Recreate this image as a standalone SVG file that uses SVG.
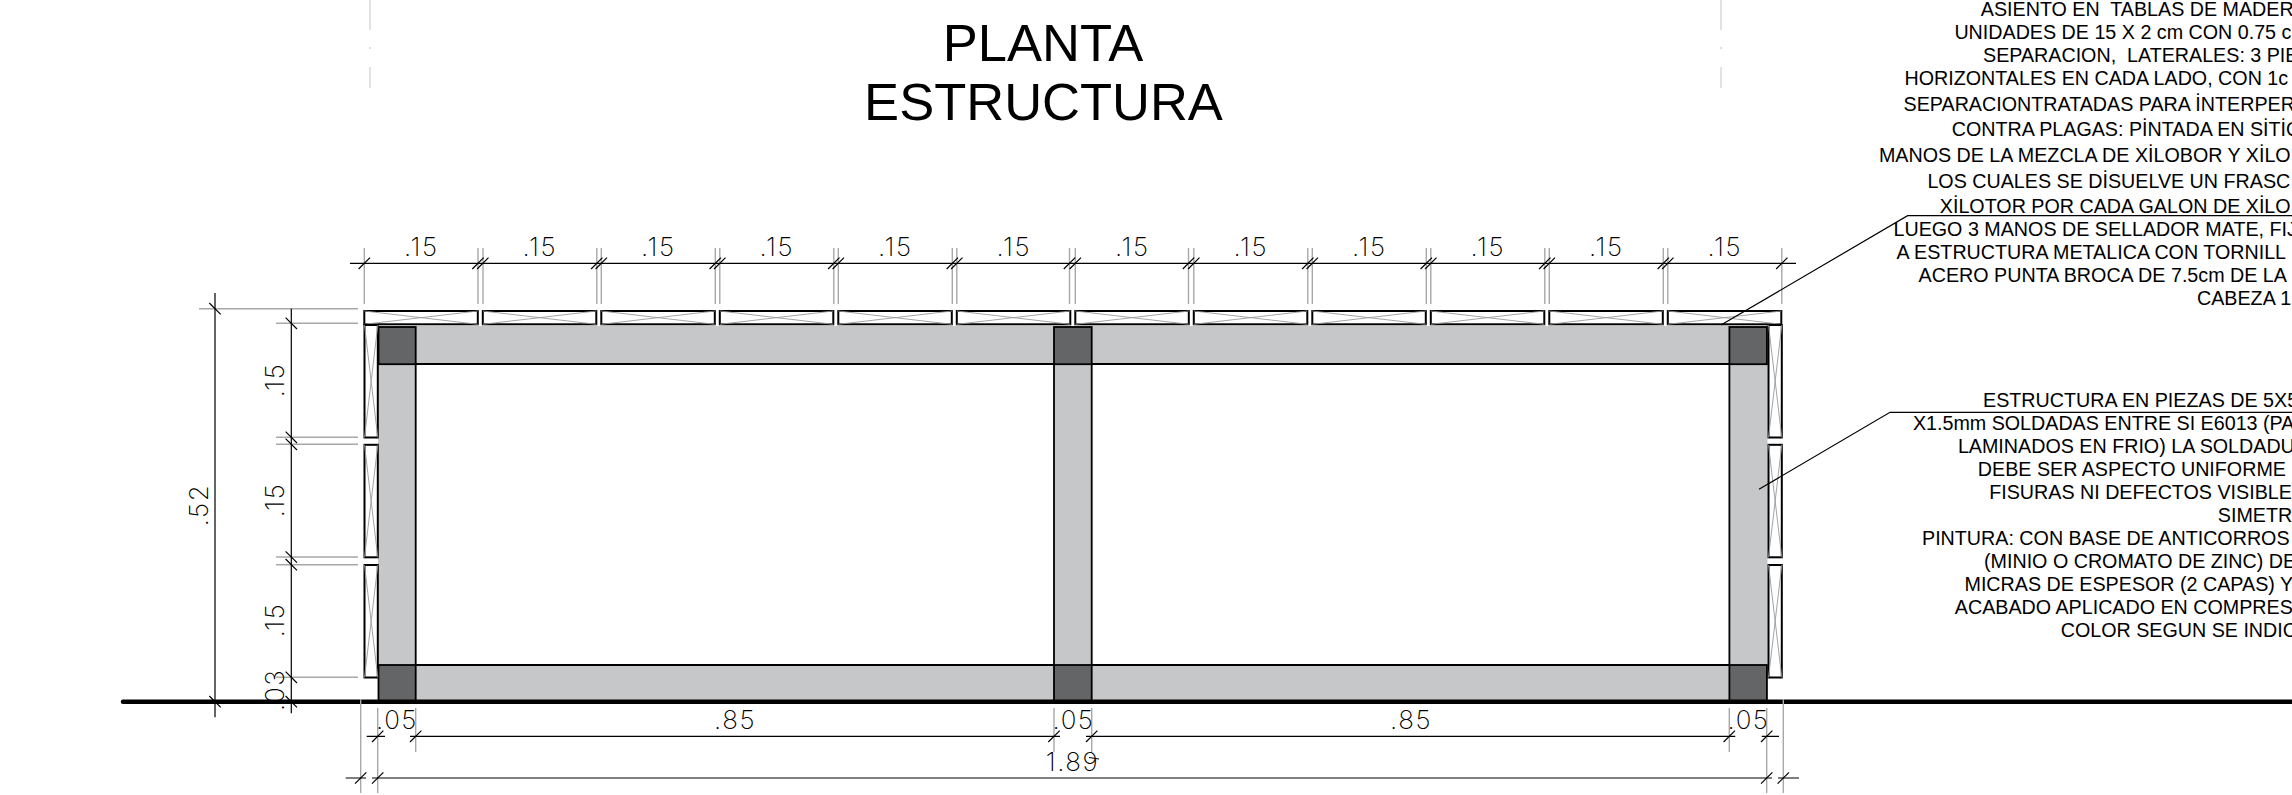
<svg xmlns="http://www.w3.org/2000/svg" xmlns:xlink="http://www.w3.org/1999/xlink" width="2292" height="795" viewBox="0 0 2292 795">
<style>
.t{font-family:"Liberation Sans",Arial,sans-serif;fill:#000;white-space:pre}
.title{font-size:52.5px;text-anchor:middle}
.note{font-size:19.7px}
.dim{font-family:Inter,"Liberation Sans",sans-serif;font-weight:200;font-size:26px;letter-spacing:1.5px;fill:#000;text-anchor:middle}
.ext{stroke:#a8a8a8;stroke-width:1.4;fill:none}
.dl{stroke:#000;stroke-width:1.2;fill:none}
.lead{stroke:#000;stroke-width:1.2;fill:none}
.light{fill:#c6c7c9}
.dark{fill:#646567;stroke:#000;stroke-width:1.8}
.edge{stroke:#000;stroke-width:1.8;fill:none}
.pl{fill:#fff;stroke:#000;stroke-width:2}
.x{stroke:#9a9a9a;stroke-width:.9;fill:none}
.faint{stroke:#d0d0d0;stroke-width:1.2;fill:none}
</style>
<defs>
<g id="ph"><rect class="pl" x="0" y="0" width="113.5" height="13.3"/><path class="x" d="M0 0L113.5 13.3M0 13.3L113.5 0"/></g>
<g id="pv"><rect class="pl" x="0" y="0" width="13.3" height="112.5"/><path class="x" d="M0 0L13.3 112.5M0 112.5L13.3 0"/></g>
</defs>
<rect width="2292" height="795" fill="#fff"/>
<g id="sheet-marks"><path class="faint" d="M370 0V30M370 47V49M370 67V88M1721 0V30M1721 47V49M1721 67V88"/></g>
<g id="title"><text class="t title" x="1043" y="61">PLANTA</text><text class="t title" x="1043.500" y="120">ESTRUCTURA</text></g>
<g id="frame">
<rect class="light" x="378" y="326" width="1389" height="38"/>
<rect class="light" x="378" y="665" width="1389" height="37"/>
<rect class="light" x="378" y="326" width="38" height="376"/>
<rect class="light" x="1054" y="326" width="38" height="376"/>
<rect class="light" x="1729.500" y="326" width="38" height="376"/>
<path class="edge" d="M416 364H1054M1092 364H1729.500M416 665H1054M1092 665H1729.500M415.700 364V665M1054 364V665M1091.700 364V665M1729.400 364V665"/>
</g>
<g id="columns">
<rect class="dark" x="378.500" y="327" width="37.200" height="37.200"/>
<rect class="dark" x="1054" y="327" width="37.700" height="37.200"/>
<rect class="dark" x="1729.400" y="327" width="37.500" height="37.200"/>
<rect class="dark" x="378.500" y="665" width="37.200" height="36.700"/>
<rect class="dark" x="1054" y="665" width="37.700" height="36.700"/>
<rect class="dark" x="1729.400" y="665" width="37.500" height="36.700"/>
</g>
<g id="planks-top">
<use xlink:href="#ph" href="#ph" x="364.300" y="311"/>
<use xlink:href="#ph" href="#ph" x="482.800" y="311"/>
<use xlink:href="#ph" href="#ph" x="601.300" y="311"/>
<use xlink:href="#ph" href="#ph" x="719.800" y="311"/>
<use xlink:href="#ph" href="#ph" x="838.300" y="311"/>
<use xlink:href="#ph" href="#ph" x="956.800" y="311"/>
<use xlink:href="#ph" href="#ph" x="1075.300" y="311"/>
<use xlink:href="#ph" href="#ph" x="1193.800" y="311"/>
<use xlink:href="#ph" href="#ph" x="1312.300" y="311"/>
<use xlink:href="#ph" href="#ph" x="1430.800" y="311"/>
<use xlink:href="#ph" href="#ph" x="1549.300" y="311"/>
<use xlink:href="#ph" href="#ph" x="1667.800" y="311"/>
</g>
<g id="planks-left">
<use xlink:href="#pv" href="#pv" x="364.500" y="325"/>
<use xlink:href="#pv" href="#pv" x="364.500" y="444.800"/>
<use xlink:href="#pv" href="#pv" x="364.500" y="565"/>
</g>
<g id="planks-right">
<use xlink:href="#pv" href="#pv" x="1768.500" y="325"/>
<use xlink:href="#pv" href="#pv" x="1768.500" y="444.800"/>
<use xlink:href="#pv" href="#pv" x="1768.500" y="565"/>
</g>
<g id="ground"><path d="M123 701.700H2292" stroke="#000" stroke-width="4.500" stroke-linecap="round" fill="none"/></g>
<g id="connectors">
<path class="ext" d="M364.300 248V304M478 248V304M483 248V304M596.800 248V304M601.300 248V304M715.300 248V304M719.800 248V304M833.800 248V304M838.300 248V304M952.300 248V304M956.800 248V304M1069.500 248V304M1075.300 248V304M1188.500 248V304M1193.800 248V304M1307.800 248V304M1312.300 248V304M1426.300 248V304M1430.800 248V304M1544.800 248V304M1549.300 248V304M1663.300 248V304M1667.800 248V304M1781.800 248V304"/>
<path class="dl" d="M350 263.300H1796"/>
<path class="dl" d="M370 257.600l-11.400 11.400M483.700 257.600l-11.400 11.400M488.500 257.600l-11.400 11.400M602.500 257.600l-11.400 11.400M607 257.600l-11.400 11.400M721 257.600l-11.400 11.400M725.500 257.600l-11.400 11.400M839.500 257.600l-11.400 11.400M844 257.600l-11.400 11.400M958 257.600l-11.400 11.400M962.500 257.600l-11.400 11.400M1075.200 257.600l-11.400 11.400M1081 257.600l-11.400 11.400M1194.200 257.600l-11.400 11.400M1199.500 257.600l-11.400 11.400M1313.500 257.600l-11.400 11.400M1318 257.600l-11.400 11.400M1432 257.600l-11.400 11.400M1436.500 257.600l-11.400 11.400M1550.500 257.600l-11.400 11.400M1555 257.600l-11.400 11.400M1669 257.600l-11.400 11.400M1673.500 257.600l-11.400 11.400M1787.500 257.600l-11.400 11.400"/>
<path class="ext" d="M199 308.700H358M276 323.300H358M276 437.300H358M276 444.300H358M276 557H358M276 564.700H358M276 677.300H358"/>
<path class="dl" d="M215 293V717.300M291.300 308.700V713.300"/>
<path class="dl" d="M209.300 303l11.400 11.400M209.300 696l11.400 11.400M285.600 317.600l11.400 11.400M285.600 431.600l11.400 11.400M285.600 438.600l11.400 11.400M285.600 551.300l11.400 11.400M285.600 559l11.400 11.400M285.600 671.600l11.400 11.400M285.600 696l11.400 11.400"/>
<path class="ext" d="M360.700 699V793M377.700 708V793M415.700 708V752M1054 708V752M1091.700 708V752M1729.300 708V752M1766.700 708V793M1783.300 699V793"/>
<path class="dl" d="M366.700 736.300H385M410 736.300H1060M1086 736.300H1735.300M1761.700 736.300H1779M345.700 778H366M372 778H1772M1778 778H1799"/>
<path class="dl" d="M383.400 730.600l-11.400 11.400M421.400 730.600l-11.400 11.400M1059.700 730.600l-11.400 11.400M1097.400 730.600l-11.400 11.400M1735 730.600l-11.400 11.400M1772.400 730.600l-11.400 11.400M366.400 772.300l-11.400 11.400M383.400 772.300l-11.400 11.400M1772.400 772.300l-11.400 11.400M1789 772.300l-11.400 11.400"/>
<path class="dl" d="M1089 757.500L1099 759"/>
<path class="lead" d="M2292 215.700H1907.600L1721 325M2292 412.300H1890L1759 489.300"/>
</g>
<g id="dimension-labels">
<text class="dim" x="421.300" y="256">.15</text><text class="dim" x="539.800" y="256">.15</text><text class="dim" x="658.300" y="256">.15</text><text class="dim" x="776.800" y="256">.15</text><text class="dim" x="895.300" y="256">.15</text><text class="dim" x="1013.800" y="256">.15</text><text class="dim" x="1132.300" y="256">.15</text><text class="dim" x="1250.800" y="256">.15</text><text class="dim" x="1369.300" y="256">.15</text><text class="dim" x="1487.800" y="256">.15</text><text class="dim" x="1606.300" y="256">.15</text><text class="dim" x="1724.800" y="256">.15</text>
<text class="dim" transform="translate(284 380) rotate(-90)">.15</text>
<text class="dim" transform="translate(284 500) rotate(-90)">.15</text>
<text class="dim" transform="translate(284 620) rotate(-90)">.15</text>
<text class="dim" transform="translate(284 690) rotate(-90)">.03</text>
<text class="dim" transform="translate(208.300 505) rotate(-90)">.52</text>
<text class="dim" x="397" y="728.500">.05</text><text class="dim" x="1073.500" y="728.500">.05</text><text class="dim" x="1748.500" y="728.500">.05</text>
<text class="dim" x="735" y="729">.85</text><text class="dim" x="1411" y="729">.85</text>
<text class="dim" x="1072.500" y="771">1.89</text>
</g>
<g id="note-asiento">
<text class="t note" x="1980.800" y="15.700">ASIENTO EN  TABLAS DE MADER</text>
<text class="t note" x="1954.400" y="39.300">UNIDADES DE 15 X 2 cm CON 0.75 c</text>
<text class="t note" x="1983" y="62.300">SEPARACION,  LATERALES: 3 PIE</text>
<text class="t note" x="1904.500" y="85.300">HORIZONTALES EN CADA LADO, CON 1c</text>
<text class="t note" x="1903.600" y="111">SEPARACIONTRATADAS PARA İNTERPER</text>
<text class="t note" x="1951.700" y="136.300">CONTRA PLAGAS: PİNTADA EN SİTİO</text>
<text class="t note" x="1878.900" y="162">MANOS DE LA MEZCLA DE XİLOBOR Y XİLO</text>
<text class="t note" x="1927.400" y="188.300">LOS CUALES SE DİSUELVE UN FRASC</text>
<text class="t note" x="1939.800" y="213.300">XİLOTOR POR CADA GALON DE XİLO</text>
<text class="t note" x="1893.500" y="236">LUEGO 3 MANOS DE SELLADOR MATE, FIJ</text>
<text class="t note" x="1896.600" y="259.300">A ESTRUCTURA METALICA CON TORNILL</text>
<text class="t note" x="1918.600" y="282.300">ACERO PUNTA BROCA DE 7.5cm DE LA</text>
<text class="t note" x="2197" y="305">CABEZA 1</text>
</g>
<g id="note-estructura">
<text class="t note" x="1983" y="406.700">ESTRUCTURA EN PIEZAS DE 5X5</text>
<text class="t note" x="1912.900" y="430">X1.5mm SOLDADAS ENTRE SI E6013 (PA</text>
<text class="t note" x="1957.900" y="453">LAMINADOS EN FRIO) LA SOLDADU</text>
<text class="t note" x="1977.800" y="475.700">DEBE SER ASPECTO UNIFORME</text>
<text class="t note" x="1989.200" y="498.700">FISURAS NI DEFECTOS VISIBLE</text>
<text class="t note" x="2217.800" y="521.700">SIMETR</text>
<text class="t note" x="1922" y="544.700">PINTURA: CON BASE DE ANTICORROS</text>
<text class="t note" x="1984" y="567.700">(MINIO O CROMATO DE ZINC) DE</text>
<text class="t note" x="1964.500" y="590.700">MICRAS DE ESPESOR (2 CAPAS) Y</text>
<text class="t note" x="1954.800" y="613.700">ACABADO APLICADO EN COMPRES</text>
<text class="t note" x="2060.700" y="636.700">COLOR SEGUN SE INDIC</text>
</g>
</svg>
